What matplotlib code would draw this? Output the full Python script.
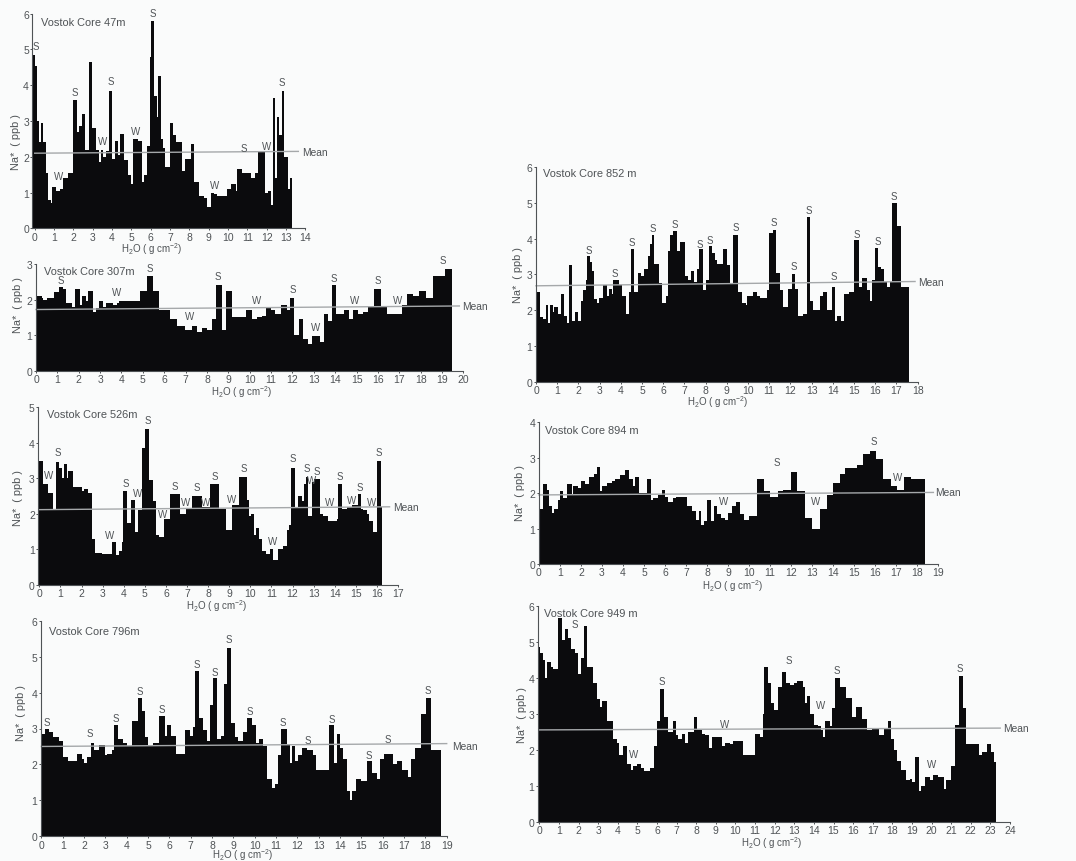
import matplotlib
matplotlib.use('Agg')
import matplotlib.pyplot as plt

plt.rcParams['font.family'] = ['Liberation Sans', 'DejaVu Sans']
plt.rcParams['mathtext.default'] = 'regular'

W, H = 1076, 862
INK = '#4f5356'
BAR = '#0b0b0d'
PAPER = '#fafbfb'

# step edges (g cm-2) and Na heights (ppb)
edges_47 = [-.12,0,.1,.24,.31,.45,.57,.71,.83,.91,1.09,1.31,1.48,1.74,1.97,2.17,2.31,2.47,2.62,2.79,2.98,3.17,3.33,3.43,3.55,3.67,3.84,4.02,4.16,4.29,4.41,4.62,4.81,4.97,5.1,5.33,5.53,5.67,5.83,5.97,6.02,6.19,6.31,6.4,6.53,6.66,6.76,7.0,7.17,7.29,7.64,7.78,8.09,8.26,8.5,8.76,8.9,9.1,9.28,9.45,9.93,10.14,10.4,10.47,10.71,11.17,11.4,11.57,11.91,12.05,12.21,12.31,12.43,12.52,12.66,12.78,12.91,13.09,13.21,13.33]
na_47 = [4.85,4.55,3.0,2.4,2.95,2.4,1.55,.8,.7,1.15,1.05,1.1,1.4,1.55,3.6,2.7,2.85,3.2,2.2,4.65,2.8,2.2,1.85,2.2,2.0,2.15,3.85,1.95,2.45,2.05,2.65,1.9,1.5,1.25,2.5,2.45,1.3,1.5,2.3,4.8,5.8,3.7,3.1,4.25,2.5,2.25,1.7,2.95,2.6,2.4,1.6,1.95,2.35,1.3,.9,.85,.6,1.0,.95,.9,1.1,1.25,1.05,1.65,1.55,1.4,1.55,2.15,1.0,1.05,.65,3.65,1.4,3.1,2.6,3.85,2.0,1.1,1.4]

edges_307 = [0,.27,.34,.53,.86,1.08,1.28,1.4,1.67,1.81,2.06,2.15,2.34,2.45,2.68,2.81,2.93,3.15,3.28,3.62,3.78,3.9,4.87,5.18,5.49,5.77,6.27,6.58,6.97,7.29,7.52,7.75,7.99,8.22,8.42,8.69,8.88,9.16,9.83,10.09,10.33,10.56,10.75,10.98,11.19,11.45,11.73,11.89,12.07,12.31,12.51,12.75,12.93,13.29,13.49,13.68,13.84,14.02,14.43,14.66,14.85,15.09,15.32,15.55,15.82,16.13,16.44,17.11,17.35,17.66,17.93,18.24,18.56,19.14,19.45]
na_307 = [2.1,2.05,2.0,2.05,2.2,2.35,2.3,1.9,1.8,2.3,1.85,2.1,1.95,2.25,1.65,1.75,1.95,1.8,1.9,1.85,1.9,1.95,2.25,2.65,2.25,1.7,1.45,1.25,1.15,1.25,1.1,1.2,1.15,1.45,2.4,1.15,2.25,1.5,1.7,1.45,1.5,1.55,1.8,1.7,1.6,1.85,1.7,2.05,1.0,1.45,.9,.75,.97,.8,1.6,1.4,2.4,1.6,1.7,1.45,1.7,1.6,1.65,1.8,2.3,1.8,1.6,1.85,2.15,2.1,2.25,2.05,2.65,2.85]

edges_526 = [-.05,.16,.39,.63,.79,.95,1.06,1.17,1.3,1.37,1.58,2.0,2.12,2.32,2.51,2.64,2.95,3.43,3.63,3.79,3.9,3.98,4.17,4.33,4.53,4.69,4.85,4.99,5.21,5.4,5.51,5.69,5.91,6.19,6.67,6.94,7.25,7.73,8.09,8.53,8.85,9.15,9.48,9.83,9.94,10.02,10.19,10.27,10.43,10.57,10.73,10.93,11.09,11.3,11.53,11.72,11.85,11.91,12.12,12.24,12.43,12.54,12.62,12.75,12.94,13.02,13.3,13.43,13.7,14.09,14.17,14.36,14.57,14.8,15.09,15.24,15.36,15.51,15.64,15.83,16.02,16.18,16.26]
na_526 = [3.5,2.85,2.6,2.1,3.45,3.3,3.0,3.4,3.0,3.2,2.75,2.65,2.7,2.6,1.3,.9,.88,1.2,.85,.95,1.2,2.65,1.75,2.4,1.5,2.1,3.85,4.4,2.95,2.35,1.4,1.35,1.85,2.55,2.0,2.15,2.5,2.2,2.85,2.15,1.55,2.25,3.05,2.4,1.95,2.0,1.4,1.6,1.3,.95,.88,1.0,.7,1.0,1.1,1.55,1.7,3.3,2.2,2.5,2.35,2.85,3.05,1.95,2.9,2.98,2.0,1.95,1.8,1.85,2.85,2.15,2.2,2.25,2.55,2.15,2.1,2.0,1.8,1.5,3.5,2.2]

edges_796 = [-.03,.17,.38,.56,.84,1.03,1.23,1.66,1.89,2.0,2.12,2.31,2.47,2.72,2.98,3.09,3.3,3.42,3.61,3.84,4.0,4.23,4.55,4.73,4.86,5.02,5.25,5.53,5.8,5.88,6.08,6.31,6.73,6.97,7.09,7.22,7.38,7.56,7.78,7.91,8.06,8.22,8.41,8.56,8.69,8.88,9.06,9.23,9.47,9.66,9.88,10.06,10.22,10.41,10.59,10.83,10.94,11.09,11.22,11.5,11.66,11.75,11.89,12.02,12.2,12.44,12.72,12.88,13.5,13.72,13.84,14.0,14.16,14.34,14.47,14.58,14.75,14.97,15.28,15.5,15.72,15.88,16.06,16.47,16.69,16.91,17.19,17.34,17.53,17.8,18.02,18.25,18.73]
na_796 = [2.85,3.0,2.9,2.75,2.65,2.2,2.1,2.3,2.15,2.05,2.2,2.6,2.4,2.55,2.25,2.3,2.4,3.1,2.7,2.6,2.5,3.2,3.85,3.5,2.75,2.5,2.6,3.35,2.8,3.1,2.8,2.3,2.95,2.8,3.05,4.6,3.3,2.95,2.65,3.65,4.4,2.7,2.8,4.25,5.25,3.15,2.75,2.65,2.9,3.3,3.1,2.6,2.7,2.5,1.6,1.35,1.45,2.25,3.0,2.55,2.05,2.5,2.1,2.25,2.45,2.4,2.25,1.85,3.1,2.05,2.85,2.45,2.15,1.25,1.0,1.25,1.6,1.55,2.1,1.75,1.6,2.15,2.3,2.0,2.1,1.85,1.65,2.15,2.45,3.4,3.85,2.4]

edges_852 = [0,.19,.35,.46,.58,.66,.82,.86,1.05,1.18,1.34,1.45,1.57,1.71,1.84,2.0,2.12,2.23,2.36,2.42,2.55,2.64,2.74,2.89,2.99,3.18,3.33,3.46,3.58,3.65,3.93,4.07,4.26,4.39,4.48,4.64,4.83,4.95,5.09,5.28,5.38,5.46,5.57,5.8,5.93,6.12,6.24,6.32,6.48,6.67,6.79,7.01,7.15,7.31,7.47,7.58,7.69,7.86,8.0,8.14,8.32,8.44,8.55,8.84,9.03,9.15,9.31,9.51,9.7,9.91,9.97,10.25,10.44,10.57,10.88,11.0,11.19,11.31,11.51,11.67,11.9,12.06,12.23,12.34,12.61,12.77,12.92,13.05,13.4,13.52,13.71,13.95,14.1,14.21,14.4,14.53,14.76,15.0,15.25,15.38,15.6,15.75,15.86,15.97,16.15,16.26,16.42,16.54,16.7,16.81,17.03,17.22,17.59]
na_852 = [2.5,1.8,1.75,2.15,1.65,2.15,1.95,2.1,1.9,2.45,1.85,1.65,3.25,1.7,1.95,1.7,2.25,2.55,2.85,3.5,3.35,3.1,2.3,2.2,2.35,2.7,2.4,2.6,2.45,2.85,2.7,2.4,1.9,2.5,3.7,2.5,3.05,2.95,3.15,3.5,3.85,4.1,3.3,2.75,2.2,2.4,3.65,4.1,4.2,3.65,3.9,2.95,2.85,3.1,2.8,3.15,3.7,2.55,2.85,3.8,3.6,3.4,3.3,3.7,3.25,2.75,4.1,2.5,2.2,2.15,2.4,2.5,2.4,2.35,2.55,4.15,4.25,3.05,2.55,2.1,2.6,3.0,2.6,1.85,1.9,4.6,2.25,2.0,2.4,2.5,2.0,2.65,1.7,1.85,1.7,2.45,2.5,3.95,2.65,2.9,2.55,2.25,2.85,3.75,3.2,3.15,2.8,2.65,2.8,5.0,4.35,2.65]

edges_894 = [0,.21,.37,.49,.62,.73,.89,1.0,1.16,1.32,1.56,1.63,1.87,1.98,2.19,2.38,2.62,2.75,2.9,2.98,3.22,3.46,3.62,3.86,4.1,4.27,4.46,4.59,4.75,5.13,5.35,5.44,5.68,5.87,6.0,6.16,6.37,6.52,7.03,7.27,7.48,7.6,7.73,7.86,8.02,8.17,8.33,8.49,8.65,8.86,9.02,9.17,9.38,9.57,9.76,10.02,10.37,10.71,11.0,11.37,11.63,11.98,12.3,12.68,13.0,13.38,13.7,14.02,14.33,14.57,14.89,15.16,15.44,15.76,16.05,16.4,16.75,17.06,17.38,17.7,18.38]
na_894 = [1.55,2.25,2.1,1.65,1.45,1.55,1.8,2.05,1.85,2.25,1.95,2.2,2.15,2.35,2.25,2.45,2.55,2.75,2.05,2.2,2.3,2.35,2.4,2.5,2.65,2.4,2.2,2.45,2.0,2.4,1.8,1.85,1.95,2.1,1.9,1.75,1.85,1.9,1.65,1.5,1.25,1.5,1.1,1.2,1.8,1.2,1.65,1.4,1.3,1.25,1.45,1.65,1.75,1.4,1.25,1.35,2.4,2.05,1.9,2.05,2.1,2.6,2.05,1.3,1.0,1.55,1.95,2.3,2.55,2.7,2.72,2.8,3.1,3.2,2.95,2.4,2.2,2.1,2.45,2.4]

edges_949 = [-.07,.03,.17,.31,.41,.58,.71,.97,1.14,1.31,1.48,1.62,1.82,1.99,2.11,2.28,2.45,2.76,2.96,3.1,3.21,3.47,3.74,3.95,4.08,4.25,4.46,4.66,4.8,4.97,5.17,5.36,5.65,5.85,6.02,6.16,6.36,6.55,6.79,6.97,7.09,7.26,7.43,7.6,7.91,8.04,8.28,8.45,8.67,8.79,9.3,9.47,9.73,9.85,10.36,11.0,11.26,11.39,11.46,11.68,11.8,11.97,12.19,12.36,12.59,12.79,12.99,13.16,13.42,13.55,13.67,13.81,14.01,14.23,14.35,14.46,14.59,14.8,14.93,15.07,15.34,15.65,15.92,16.16,16.43,16.73,16.96,17.3,17.55,17.76,17.93,18.06,18.23,18.44,18.69,18.91,19.0,19.13,19.34,19.47,19.68,19.93,20.07,20.31,20.61,20.75,20.99,21.17,21.41,21.58,21.75,22.4,22.57,22.82,23.03,23.16,23.27]
na_949 = [4.85,4.7,4.5,4.0,4.45,4.3,4.25,5.65,5.05,5.35,5.1,4.8,4.7,4.1,4.55,5.45,4.3,3.85,3.4,3.2,3.35,2.8,2.3,2.2,1.85,2.1,1.6,1.45,1.55,1.6,1.5,1.4,1.5,2.1,2.8,3.7,2.9,2.5,2.8,2.4,2.3,2.45,2.2,2.5,2.9,2.55,2.45,2.4,2.05,2.35,2.1,2.2,2.15,2.25,1.85,2.45,2.35,3.0,4.3,3.85,3.3,3.1,3.75,4.15,3.85,3.8,3.85,3.9,3.75,3.3,3.5,3.0,2.7,2.65,2.55,2.35,2.8,2.65,3.15,4.0,3.75,3.45,2.9,3.2,2.85,2.55,2.6,2.4,2.6,2.8,2.3,2.0,1.7,1.45,1.15,1.2,1.1,1.8,.85,1.0,1.25,1.15,1.3,1.25,.9,1.15,1.55,2.7,4.05,3.15,2.15,1.85,1.95,2.15,1.95,1.65]

# mean line: x end, y at both ends
mean_47 = (13.64, 2.10, 2.15)
mean_307 = (19.81, 1.72, 1.82)
mean_526 = (16.6, 2.12, 2.20)
mean_796 = (19.0, 2.50, 2.58)
mean_852 = (17.88, 2.68, 2.80)
mean_894 = (18.78, 1.95, 2.02)
mean_949 = (23.5, 2.55, 2.60)

# S / W annotations
marks_47 = [('S',.07,5.1),('S',2.05,3.82),('W',1.26,1.47),('W',3.52,2.43),('S',3.93,4.13),('W',5.22,2.73),('S',6.1,6.02),('W',9.33,1.21),('S',10.8,2.25),('W',12,2.31),('S',12.8,4.08)]
marks_307 = [('S',1.15,2.56),('W',3.78,2.2),('S',5.34,2.9),('W',7.2,1.55),('S',8.53,2.65),('W',10.33,2.0),('S',12.0,2.31),('W',13.06,1.22),('S',13.92,2.6),('W',14.9,2.0),('S',15.98,2.56),('W',16.93,2.0),('S',19.03,3.11)]
marks_526 = [('S',.88,3.74),('W',.46,3.09),('S',4.08,2.88),('W',4.64,2.58),('S',5.12,4.65),('W',5.83,2.01),('S',6.41,2.79),('W',6.94,2.34),('S',7.46,2.76),('W',7.9,2.34),('S',8.33,3.07),('W',9.12,2.42),('S',9.67,3.3),('W',3.35,1.4),('W',11.06,1.25),('S',12.0,3.58),('S',12.67,3.3),('W',12.88,2.95),('S',13.14,3.2),('W',13.78,2.34),('S',14.25,3.08),('W',14.8,2.4),('S',15.17,2.75),('W',15.75,2.34),('S',16.07,3.75)]
marks_796 = [('S',.25,3.19),('S',2.28,2.87),('S',3.48,3.28),('S',4.63,4.03),('S',5.64,3.54),('S',7.28,4.79),('S',8.14,4.56),('S',8.8,5.48),('S',9.78,3.49),('S',11.31,3.19),('S',12.47,2.69),('S',13.61,3.26),('S',15.36,2.26),('S',16.23,2.7),('S',18.11,4.06)]
marks_852 = [('S',2.47,3.69),('S',3.73,3.03),('S',4.54,3.9),('S',5.49,4.29),('S',6.56,4.41),('S',7.75,3.85),('S',8.22,3.97),('S',9.43,4.31),('S',11.24,4.45),('S',12.14,3.22),('S',12.86,4.8),('S',14.03,2.96),('S',15.13,4.13),('S',16.1,3.94),('S',16.9,5.2)]
marks_894 = [('W',8.78,1.78),('S',11.32,2.89),('W',13.17,1.78),('S',15.92,3.46),('W',17.06,2.47)]
marks_949 = [('S',1.82,5.49),('S',6.24,3.92),('W',4.8,1.88),('W',9.47,2.71),('S',12.74,4.5),('W',14.35,3.24),('S',15.17,4.21),('W',19.98,1.6),('S',21.46,4.27)]

XLABEL = r'H$_2$O ( g cm$^{-2}$)'
YLABEL = 'Na*  ( ppb )'


def px_text(x, y, s, **kw):
    return fig.text(x / W, 1 - y / H, s, color=INK, **kw)


def core(title, edges, na, mean, marks, box, xr, ymax, title_at, xlab_at, ylab_at, mean_at):
    # box is left, right, bottom, top in picture pixels
    l, r, b, t = box
    ax = fig.add_axes([l / W, 1 - b / H, (r - l) / W, (b - t) / H])
    ax.patch.set_alpha(0)
    ax.stairs(na, edges, baseline=0, fill=True, color=BAR, lw=0)
    ax.plot([0, mean[0]], [mean[1], mean[2]], color='#a5a8aa', lw=1.0, clip_on=False)
    for lab, x, y in marks:
        ax.text(x, y, lab, ha='center', va='center', fontsize=7, color=INK, clip_on=False)
    ax.set_xlim(edges[0], xr)
    ax.set_ylim(0, ymax)
    ax.set_xticks(range(0, xr + 1))
    ax.set_yticks(range(0, ymax + 1))
    ax.tick_params(labelsize=7.5, colors=INK, length=1.5, width=.7, pad=1.0)
    for side in ['top', 'right']:
        ax.spines[side].set_visible(False)
    for side in ['left', 'bottom']:
        ax.spines[side].set_color(INK)
        ax.spines[side].set_linewidth(.8)
    ax.text(title_at[0], title_at[1], title, fontsize=7.9, color=INK, va='center')
    px_text(xlab_at[0], xlab_at[1], XLABEL, fontsize=7.0, ha='center', va='center')
    px_text(ylab_at[0], ylab_at[1], YLABEL, fontsize=7.9, rotation=90, ha='center', va='center')
    px_text(mean_at[0], mean_at[1], 'Mean', fontsize=7.4, va='center')


fig = plt.figure(figsize=(W / 100, H / 100), dpi=100, facecolor=PAPER)

core('Vostok Core 47m', edges_47, na_47, mean_47, marks_47, (32.4, 305.3, 229.3, 14.7), 14, 6,
     (.31, 5.78), (152, 249), (16, 142), (302, 153))
core('Vostok Core 307m', edges_307, na_307, mean_307, marks_307, (36, 463.4, 371.7, 265), 20, 3,
     (.37, 2.79), (242, 392), (18, 305), (462, 307))
core('Vostok Core 526m', edges_526, na_526, mean_526, marks_526, (38.3, 398, 586, 408.3), 17, 5,
     (.35, 4.82), (217, 606), (18, 498), (393, 508))
core('Vostok Core 796m', edges_796, na_796, mean_796, marks_796, (40.7, 446.7, 837.3, 621.7), 19, 6,
     (.38, 5.71), (243, 855), (21, 713), (452, 747))
core('Vostok Core 852 m', edges_852, na_852, mean_852, marks_852, (536, 917.6, 382.7, 168), 18, 6,
     (.31, 5.82), (718, 402), (518, 275), (918, 283))
core('Vostok Core 894 m', edges_894, na_894, mean_894, marks_894, (539, 938, 565, 423.3), 19, 4,
     (.29, 3.77), (733, 586), (520, 493), (935, 493))
core('Vostok Core 949 m', edges_949, na_949, mean_949, marks_949, (538, 1010, 822.7, 606.7), 24, 6,
     (.25, 5.8), (772, 843), (522, 715), (1003, 729))

fig.savefig('out.png', dpi=100, facecolor=fig.get_facecolor())
